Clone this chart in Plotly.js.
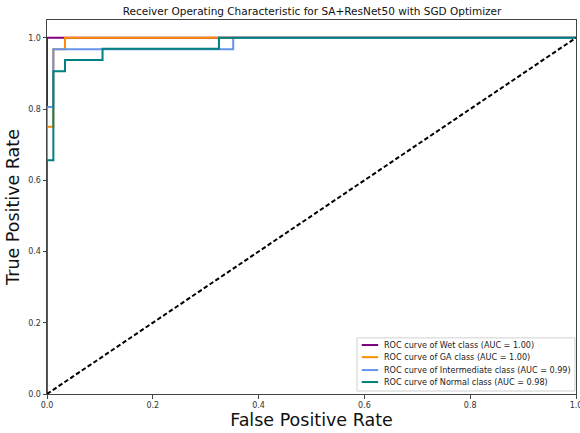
<!DOCTYPE html>
<html>
<head>
<meta charset="utf-8">
<script src="https://cdn.plot.ly/plotly-3.0.1.min.js"></script>
<style>html,body{margin:0;padding:0;background:#fff;}#chart{width:580px;height:433px;}</style>
</head>
<body>
<div id="chart"></div>
<script>
// Data
const classNames = ["Wet", "GA", "Intermediate", "Normal"];
const aucValues = ["1.00", "1.00", "0.99", "0.98"];
const lineColors = ["#800080", "#ff8c00", "#6495ed", "#008080"];

const fprWet = [0, 0, 1];
const tprWet = [0, 1, 1];

const fprGA = [0, 0, 0.012, 0.012, 0.034, 0.034, 1];
const tprGA = [0, 0.75, 0.75, 0.968, 0.968, 1, 1];

const fprIntermediate = [0, 0, 0.012, 0.012, 0.352, 0.352, 1];
const tprIntermediate = [0, 0.806, 0.806, 0.968, 0.968, 1, 1];

const fprNormal = [0, 0, 0.012, 0.012, 0.034, 0.034, 0.105, 0.105, 0.325, 0.325, 1];
const tprNormal = [0, 0.656, 0.656, 0.906, 0.906, 0.9375, 0.9375, 0.969, 0.969, 1, 1];

const chanceX = [0, 1];
const chanceY = [0, 1];

const tickValues = [0, 0.2, 0.4, 0.6, 0.8, 1.0];

const fprs = [fprWet, fprGA, fprIntermediate, fprNormal];
const tprs = [tprWet, tprGA, tprIntermediate, tprNormal];
const labels = classNames.map((c, i) => "ROC curve of " + c + " class (AUC = " + aucValues[i] + ")");

const traces = classNames.map((c, i) => ({
  x: fprs[i], y: tprs[i], type: "scatter", mode: "lines",
  name: labels[i], showlegend: false,
  line: {color: lineColors[i], width: 2}
}));
traces.push({
  x: chanceX, y: chanceY, type: "scatter", mode: "lines",
  showlegend: false, line: {color: "#000000", width: 2, dash: "4.5px,2.5px"}
});

// Matplotlib-style compact legend (box, line samples, texts) in paper coordinates
const legendBox = {x0: 0.586, x1: 0.998, y0: 0.008, y1: 0.150};
const legendRowY = [0.131, 0.0985, 0.064, 0.032];
const legendLineX = [0.595, 0.626];
const legendTextX = 0.633;

const shapes = [{
  type: "rect", xref: "paper", yref: "paper",
  x0: legendBox.x0, x1: legendBox.x1, y0: legendBox.y0, y1: legendBox.y1,
  line: {color: "#d0d0d0", width: 1}, fillcolor: "rgba(255,255,255,0.85)", layer: "above"
}];
const annotations = [];
labels.forEach((t, i) => {
  shapes.push({type: "line", xref: "paper", yref: "paper",
    x0: legendLineX[0], x1: legendLineX[1], y0: legendRowY[i], y1: legendRowY[i],
    line: {color: lineColors[i], width: 2}, layer: "above"});
  annotations.push({xref: "paper", yref: "paper", x: legendTextX, y: legendRowY[i],
    xanchor: "left", yanchor: "middle", showarrow: false, text: t,
    font: {family: "DejaVu Sans", size: 8.1, color: "#222222"}});
});

const tickFont = {family: "DejaVu Sans", size: 8, color: "#333333"};
const layout = {
  width: 580, height: 433,
  margin: {l: 47, r: 4, t: 20, b: 39},
  paper_bgcolor: "#ffffff", plot_bgcolor: "#ffffff",
  title: {text: "Receiver Operating Characteristic for SA+ResNet50 with SGD Optimizer",
          font: {family: "DejaVu Sans", size: 10.5, color: "#111111"},
          x: 0.538, xanchor: "center", y: 0.973, yanchor: "middle"},
  xaxis: {range: [0, 1], tickvals: tickValues, tickformat: ".1f",
          showgrid: false, zeroline: false, showline: true, mirror: true,
          linecolor: "#444444", linewidth: 1, ticks: "outside", ticklen: 3.5,
          tickcolor: "#444444", tickfont: tickFont, ticklabeloverflow: "allow",
          title: {text: "False Positive Rate", font: {family: "DejaVu Sans", size: 17.5, color: "#111111"}, standoff: 2}},
  yaxis: {range: [0, 1.05], tickvals: tickValues, tickformat: ".1f",
          showgrid: false, zeroline: false, showline: true, mirror: true,
          linecolor: "#444444", linewidth: 1, ticks: "outside", ticklen: 3.5,
          tickcolor: "#444444", tickfont: tickFont,
          title: {text: "True Positive Rate", font: {family: "DejaVu Sans", size: 17.5, color: "#111111"}, standoff: 4}},
  shapes: shapes,
  annotations: annotations,
  showlegend: false
};

Plotly.newPlot("chart", traces, layout, {staticPlot: true, displayModeBar: false});
</script>
</body>
</html>
